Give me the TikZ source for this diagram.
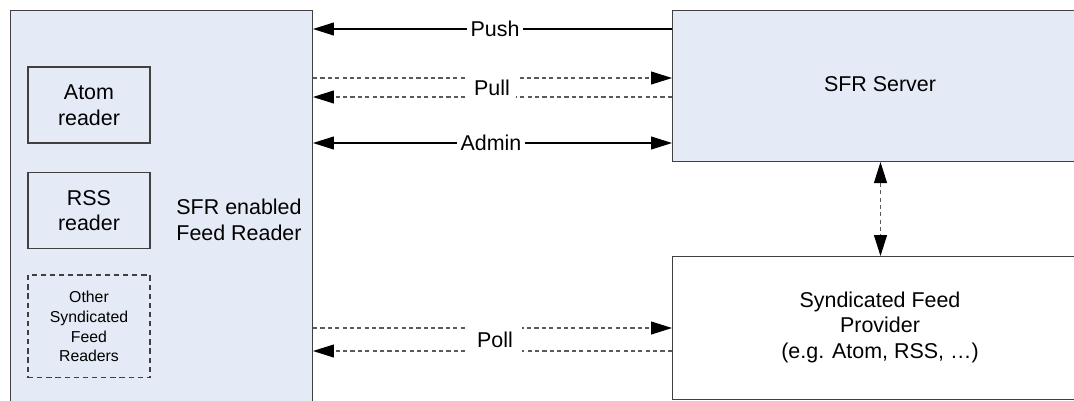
\documentclass[tikz,border=0pt]{standalone}
\usepackage{fontspec}
\setmainfont{Liberation Sans}
\usetikzlibrary{positioning, arrows.meta}

\definecolor{boxfill}{RGB}{229,235,246}
\definecolor{boxline}{RGB}{64,64,64}
\definecolor{dashline}{RGB}{90,90,90}

\tikzset{
  big/.style={draw=boxline, line width=0.6pt, rectangle, anchor=north west},
  reader/.style={draw=boxline, line width=0.6pt, rectangle, minimum width=2.44cm, align=center},
  txt/.style={align=center, font=\fontsize{12.2}{14.5}\selectfont},
  lbl/.style={fill=white, inner xsep=2pt, inner ysep=1pt, font=\fontsize{12.2}{14.5}\selectfont},
  flow/.style={line width=0.6pt},
  dflow/.style={line width=0.6pt, draw=dashline, dash pattern=on 2.4pt off 1.8pt,
    >={Triangle[length=0.42cm,width=0.26cm,color=black]}},
}

\begin{document}
\begin{tikzpicture}[x=0.02cm, y=-0.02cm, node distance=2cm, on grid,
    >={Triangle[length=0.42cm,width=0.26cm]}]
  \useasboundingbox (0,0) rectangle (1074,400);

  % boxes
  \node[big, fill=boxfill, minimum width=6.04cm, minimum height=8cm] (client) at (10,10) {};
  \node[big, fill=boxfill, minimum width=8.32cm, minimum height=3.02cm] (server) at (672,10) {};
  \node[big, fill=white, minimum width=8.32cm, minimum height=2.86cm] (provider) at (672,256) {};

  \node[txt] (clienttxt) at (239,220) {SFR enabled\\Feed Reader};
  \node[txt] (servertxt) at (880,84) {SFR Server};
  \node[txt] (providertxt) at (880,327) {Syndicated Feed\\Provider\\(e.g. Atom, RSS, \dots)};

  % readers inside the client
  \node[reader, txt, minimum height=1.52cm] (atom) at (89,105) {Atom\\reader};
  \node[reader, txt, minimum height=1.52cm] (rss) [below=2.11cm of atom] {RSS\\reader};
  \node[reader, dashed, dash pattern=on 3pt off 2.2pt, minimum height=2.06cm,
        font=\fontsize{9}{11.3}\selectfont] (other) [below=2.32cm of rss]
        {Other\\Syndicated\\Feed\\Readers};

  % connectors
  \draw[flow, ->] (server.west |- 0,29) -- (client.east |- 0,29);
  \draw[dflow, ->] (client.east |- 0,78) -- (server.west |- 0,78);
  \draw[dflow, ->] (server.west |- 0,97) -- (client.east |- 0,97);
  \draw[flow, <->] (client.east |- 0,143) -- (server.west |- 0,143);
  \draw[dflow, <->] (server.south) -- (provider.north);
  \draw[dflow, ->] (client.east |- 0,328) -- (provider.west |- 0,328);
  \draw[dflow, ->] (provider.west |- 0,351) -- (client.east |- 0,351);

  \node[lbl] (push) at (495,29) {Push};
  \node[lbl, inner xsep=3.4pt, minimum height=0.5cm] (pull) at (492,87.5) {Pull};
  \node[lbl] (admin) at (491,143) {Admin};
  \node[lbl, inner xsep=5pt, minimum height=0.56cm] (poll) at (495,339.5) {Poll};
\end{tikzpicture}
\end{document}
